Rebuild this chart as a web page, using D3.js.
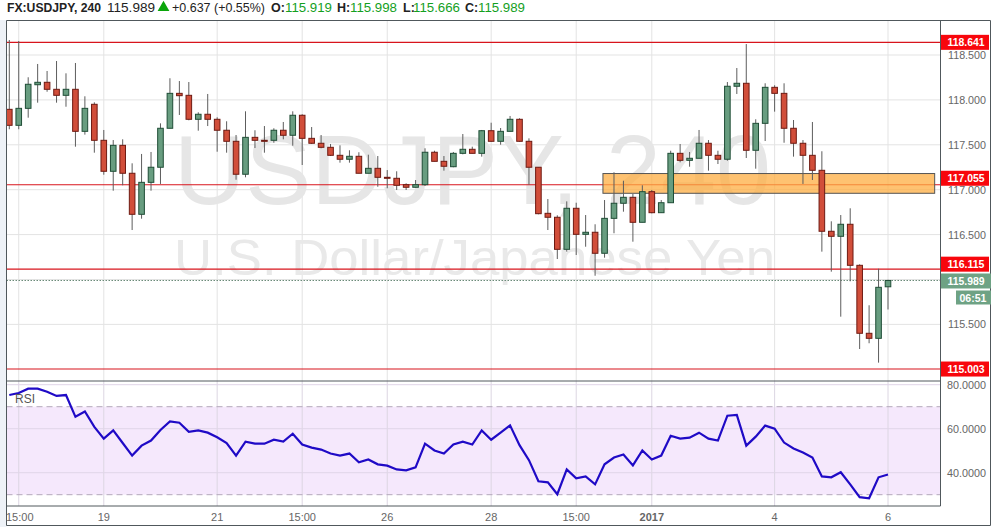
<!DOCTYPE html>
<html><head><meta charset="utf-8">
<script src="https://cdnjs.cloudflare.com/ajax/libs/d3/7.8.5/d3.min.js"></script>
<style>html,body{margin:0;padding:0;background:#fff}svg{display:block}text{font-family:"Liberation Sans",Arial,sans-serif}</style>
</head><body><svg id="c" width="992" height="527"></svg>
<script>
const opens=[117.895,117.717,117.906,118.169,118.196,118.118,118.051,118.118,117.650,117.951,117.550,117.205,117.494,117.183,116.726,117.082,117.250,117.684,118.073,118.051,117.784,117.840,117.784,117.662,117.539,117.172,117.583,117.550,117.550,117.662,117.606,117.829,117.572,117.517,117.472,117.383,117.339,117.372,117.183,117.238,117.138,117.127,117.056,117.027,117.056,117.417,117.316,117.256,117.405,117.450,117.405,117.657,117.539,117.650,117.784,117.539,117.250,116.737,116.693,116.336,116.793,116.503,116.526,116.292,116.681,116.849,116.915,116.637,116.978,116.744,116.855,117.405,117.327,117.350,117.517,117.383,117.339,118.152,118.185,117.439,117.739,118.140,118.073,117.684,117.517,117.383,117.216,116.537,116.481,116.615,116.158,115.401,115.345,115.919];
const highs=[118.667,118.656,118.252,118.400,118.322,118.433,118.296,118.411,118.040,117.973,117.665,117.553,117.561,117.294,117.398,117.420,117.739,118.241,118.210,118.199,117.862,118.066,117.806,117.762,117.609,117.873,117.662,117.709,117.684,117.754,117.873,117.840,117.698,117.609,117.509,117.494,117.439,117.417,117.390,117.375,117.219,117.205,117.071,117.108,117.461,117.434,117.375,117.420,117.620,117.479,117.665,117.746,117.687,117.821,117.795,117.572,117.250,116.896,116.715,116.870,116.855,116.718,116.615,116.885,117.194,117.100,116.952,117.049,116.997,116.885,117.434,117.509,117.420,117.665,117.553,117.434,118.199,118.355,118.622,117.784,118.185,118.163,118.185,117.776,117.553,117.754,117.428,116.648,116.718,116.793,116.169,115.713,116.120,115.998];
const lows=[117.673,117.673,117.802,117.969,118.091,117.969,117.924,117.479,117.613,117.412,117.167,116.989,117.049,116.551,116.677,116.989,117.064,117.684,117.832,117.773,117.657,117.709,117.423,117.412,117.111,117.138,117.464,117.412,117.523,117.561,117.490,117.275,117.509,117.461,117.375,117.301,117.301,117.183,117.183,117.033,117.016,116.997,116.997,117.024,117.041,117.316,117.212,117.250,117.394,117.405,117.368,117.534,117.501,117.650,117.534,117.056,116.726,116.551,116.228,116.310,116.273,116.365,116.042,116.243,116.515,116.755,116.421,116.637,116.737,116.744,116.855,117.305,117.256,117.350,117.212,117.286,117.323,118.066,117.353,117.234,117.542,117.869,117.523,117.368,117.064,117.108,116.310,116.087,115.586,115.980,115.226,115.290,115.074,115.666];
const closes=[117.717,117.906,118.174,118.196,118.118,118.051,118.118,117.650,117.906,117.550,117.205,117.494,117.183,116.726,117.082,117.250,117.684,118.073,118.047,117.784,117.840,117.784,117.662,117.539,117.172,117.583,117.550,117.546,117.662,117.606,117.829,117.572,117.517,117.472,117.383,117.339,117.372,117.183,117.238,117.138,117.127,117.049,117.027,117.056,117.417,117.316,117.261,117.405,117.450,117.405,117.657,117.539,117.650,117.784,117.539,117.250,116.733,116.693,116.336,116.793,116.503,116.526,116.292,116.681,116.849,116.915,116.637,116.978,116.744,116.855,117.405,117.327,117.350,117.517,117.383,117.339,118.152,118.185,117.439,117.739,118.140,118.073,117.684,117.517,117.383,117.216,116.537,116.481,116.615,116.158,115.401,115.345,115.913,115.989];
const rsi=[75.3,76.2,78.2,78.2,76.8,74.9,75.3,65.4,67.8,60.8,55.5,59.2,53.5,47.8,52.3,54.6,59.4,63.3,62.7,58.6,59.2,58.2,56.1,53.5,47.8,54.1,53.2,53.2,55.0,54.1,57.7,52.8,51.4,50.5,48.7,47.8,48.7,44.7,46.0,43.8,43.2,41.5,41.1,42.4,53.2,50.1,48.7,52.8,54.1,52.8,59.2,55.0,58.2,61.5,52.5,45.7,36.1,35.6,30.2,41.5,37.4,38.3,34.7,43.8,46.9,48.3,43.3,50.1,46.0,47.8,56.8,55.5,55.9,58.2,55.5,54.6,65.9,66.3,52.3,56.4,61.4,60.0,53.7,51.0,49.2,46.9,38.3,37.9,40.2,34.7,28.9,28.4,37.9,39.2];
const priceTicks=[118.5,118,117.5,117,116.5,115.5];
const rsiTicks=[80,60,40];
const rsiBand=[70,30];
const levels=[118.641,117.055,116.115,115.003];
const zone=[117.18,116.96,62.83,97.94];
const lastPrice=115.989;
const timeTicks=[[1,"15:00"],[10,"19"],[22,"21"],[31,"15:00"],[40,"26"],[51,"28"],[60,"15:00"],[68,"2017"],[81,"4"],[93,"6"]];
const ohlc=[["O:","115.919"],["H:","115.998"],["L:","115.666"],["C:","115.989"]];

const svg=d3.select("#c");
const L=6.5,R=940.5,T=20.5,M=381,B=506,OUT=990.5,FB=525.5;
const x=d3.scaleLinear().domain([0,93]).range([9.3,888]);
const y=d3.scaleLinear().domain([118.5,115.5]).range([55,324.4]);
const yr=d3.scaleLinear().domain([80,40]).range([384.7,472.7]);
const FG="#e3e3e3";
const fit=(s,w)=>s.attr("textLength",w).attr("lengthAdjust","spacingAndGlyphs");

svg.append("rect").attr("width",992).attr("height",527).attr("fill","#fff");
svg.append("rect").attr("x",0).attr("y",20).attr("width",L).attr("height",507).attr("fill","#eef2f7");
const defs=svg.append("defs");
defs.append("clipPath").attr("id","pc").append("rect").attr("x",L).attr("y",T).attr("width",R-L).attr("height",M-T);
defs.append("clipPath").attr("id","rc").append("rect").attr("x",L).attr("y",M).attr("width",R-L).attr("height",B-M);

const gm=svg.append("g").attr("clip-path","url(#pc)");
gm.selectAll("line.v").data(timeTicks).join("line").attr("class","v").attr("x1",d=>x(d[0])).attr("x2",d=>x(d[0])).attr("y1",T).attr("y2",M).attr("stroke",FG);
gm.selectAll("line.h").data(priceTicks.concat([116])).join("line").attr("class","h").attr("x1",L).attr("x2",R).attr("y1",d=>y(d)).attr("y2",d=>y(d)).attr("stroke",FG);
fit(gm.append("text").attr("x",174).attr("y",204).attr("font-size",98).attr("fill","#e6e6e6").text("USDJPY, 240"),597);
fit(gm.append("text").attr("x",174).attr("y",275).attr("font-size",50).attr("fill","#e9e9e9").text("U.S. Dollar/Japanese Yen"),601);
gm.append("line").attr("x1",L).attr("x2",R).attr("y1",y(lastPrice)).attr("y2",y(lastPrice)).attr("stroke","#6a8a78").attr("stroke-dasharray","1.5,1.5");
gm.selectAll("line.l").data(levels).join("line").attr("class","l").attr("x1",L).attr("x2",R).attr("y1",d=>y(d)).attr("y2",d=>y(d)).attr("stroke","#d8141c").attr("stroke-width",1.1);
gm.append("rect").attr("x",x(zone[2])).attr("width",x(zone[3])-x(zone[2])).attr("y",y(zone[0])).attr("height",y(zone[1])-y(zone[0])).attr("fill","#fdae42").attr("fill-opacity",.75).attr("stroke","#555").attr("stroke-width",1);
const idx=d3.range(opens.length);
const up=i=>closes[i]>=opens[i];
gm.selectAll("line.w").data(idx).join("line").attr("class","w").attr("x1",x).attr("x2",x).attr("y1",i=>y(highs[i])).attr("y2",i=>y(lows[i])).attr("stroke","#5d5d5d").attr("stroke-width",1);
gm.selectAll("rect.b").data(idx).join("rect").attr("class","b").attr("x",i=>x(i)-2.8).attr("width",5.6).attr("y",i=>y(Math.max(opens[i],closes[i]))).attr("height",i=>Math.max(1,Math.abs(y(opens[i])-y(closes[i])))).attr("fill",i=>up(i)?"#689d80":"#d14e3a").attr("stroke",i=>up(i)?"#1f4d36":"#6e1a12").attr("stroke-width",1);
const gr=svg.append("g").attr("clip-path","url(#rc)");
gr.append("rect").attr("x",L).attr("width",R-L).attr("y",yr(rsiBand[0])).attr("height",yr(rsiBand[1])-yr(rsiBand[0])).attr("fill","#f5e8fc");
gr.selectAll("line.v").data(timeTicks).join("line").attr("class","v").attr("x1",d=>x(d[0])).attr("x2",d=>x(d[0])).attr("y1",M).attr("y2",B).attr("stroke","#dcd6e2");
gr.selectAll("line.h").data(rsiTicks).join("line").attr("class","h").attr("x1",L).attr("x2",R).attr("y1",d=>yr(d)).attr("y2",d=>yr(d)).attr("stroke","#e0d6e8");
gr.selectAll("line.b").data(rsiBand).join("line").attr("class","b").attr("x1",L).attr("x2",R).attr("y1",d=>yr(d)).attr("y2",d=>yr(d)).attr("stroke","#b3a8ba").attr("stroke-dasharray","6,4");
gr.append("path").attr("d",d3.line().x((d,i)=>x(i)).y(d=>yr(d))(rsi)).attr("fill","none").attr("stroke","#1f0ac6").attr("stroke-width",2.2);
svg.append("text").attr("x",15).attr("y",403).attr("font-size",12).attr("fill","#555").text("RSI");
const fr=svg.append("g").attr("stroke","#50585c").attr("fill","none");
fr.append("path").attr("d",`M${L} ${FB}V${T}H${OUT}`);
fr.append("line").attr("x1",L).attr("x2",R).attr("y1",M).attr("y2",M);
fr.append("line").attr("x1",L).attr("x2",R).attr("y1",B).attr("y2",B);
fr.append("line").attr("x1",R).attr("x2",R).attr("y1",T).attr("y2",B);
fr.append("line").attr("x1",L).attr("x2",OUT).attr("y1",FB).attr("y2",FB);
fr.append("line").attr("x1",OUT).attr("x2",OUT).attr("y1",T).attr("y2",FB);
fit(svg.append("g").selectAll("text").data(priceTicks).join("text").attr("x",948).attr("y",d=>y(d)+4).attr("font-size",11.5).attr("fill","#666").text(d=>d3.format(".3f")(d)),38);
fit(svg.append("g").selectAll("text").data(rsiTicks).join("text").attr("x",947).attr("y",d=>yr(d)+4).attr("font-size",11.5).attr("fill","#666").text(d=>d3.format(".4f")(d)),39);
svg.append("g").selectAll("text").data(timeTicks).join("text").attr("x",d=>x(d[0])+(d[1]=="15:00"&&d[0]==1?1:0)).attr("y",521).attr("text-anchor","middle").attr("font-size",11).attr("font-weight",d=>d[1]=="2017"?"bold":"normal").attr("fill","#666").text(d=>d[1]);
const lift=[0,-6.5,-5,0];
const lg=svg.append("g");
levels.forEach((v,i)=>{
 const c=y(v)+lift[i];
 lg.append("rect").attr("x",941).attr("width",48).attr("y",c-7.5).attr("height",15).attr("fill","#f8060c");
 fit(lg.append("text").attr("x",947.5).attr("y",c+4).attr("font-size",11.5).attr("font-weight","bold").attr("fill","#fff").text(d3.format(".3f")(v)),37);
});
lg.append("rect").attr("x",941).attr("width",50).attr("y",y(lastPrice)-7).attr("height",15).attr("fill","#6ea284");
fit(lg.append("text").attr("x",947.5).attr("y",y(lastPrice)+4.5).attr("font-size",11.5).attr("font-weight","bold").attr("fill","#fff").text(d3.format(".3f")(lastPrice)),37);
lg.append("rect").attr("x",956).attr("width",35).attr("y",290.5).attr("height",14).attr("fill","#6ea284");
fit(lg.append("text").attr("x",959.5).attr("y",302).attr("font-size",11.5).attr("font-weight","bold").attr("fill","#fff").text("06:51"),27);
fit(svg.append("text").attr("x",7).attr("y",12).attr("font-size",12.5).attr("font-weight","bold").attr("fill","#222").text("FX:USDJPY, 240"),94);
fit(svg.append("text").attr("x",107).attr("y",12).attr("font-size",13).attr("fill","#222").text("115.989"),48);
svg.append("path").attr("d",d3.symbol(d3.symbolTriangle,60)()).attr("transform","translate(163.5,7.5)").attr("fill","#0aa50a");
fit(svg.append("text").attr("x",172).attr("y",12).attr("font-size",13).attr("fill","#222").text("+0.637 (+0.55%)"),93);
const hl=[271,337,403,465],hv=[285,350,413,478];
ohlc.forEach((d,i)=>{
 svg.append("text").attr("x",hl[i]).attr("y",12).attr("font-size",12.5).attr("font-weight","bold").attr("fill","#222").text(d[0]);
 fit(svg.append("text").attr("x",hv[i]).attr("y",12).attr("font-size",13).attr("fill","#14a01e").text(d[1]),47);
});
</script></body></html>
